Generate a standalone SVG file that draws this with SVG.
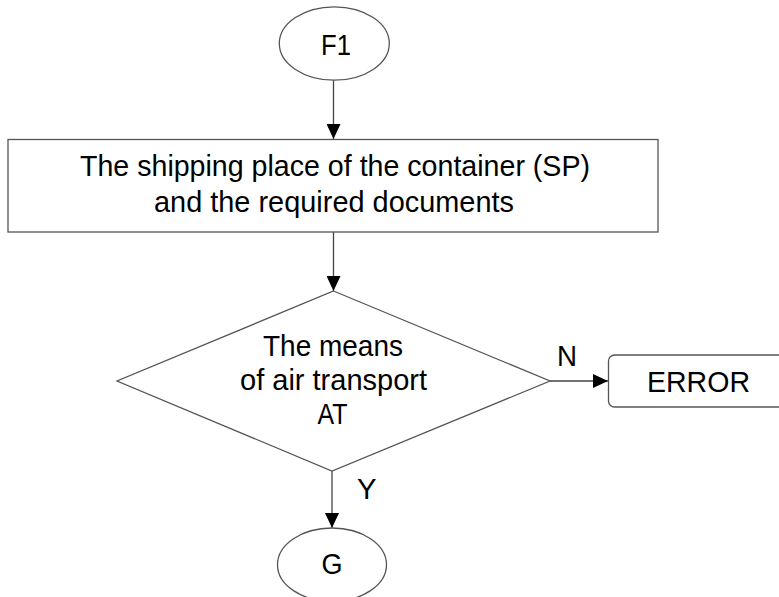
<svg xmlns="http://www.w3.org/2000/svg" width="779" height="597" viewBox="0 0 779 597">
<defs>
<style>
.shape{fill:#fff;stroke:#555;stroke-width:1.3}
.conn{fill:none;stroke:#444;stroke-width:1.3}
.t{font-family:"Liberation Sans",Arial,sans-serif;font-size:29.5px;fill:#000;text-anchor:middle}
.lbl{font-family:"Liberation Sans",Arial,sans-serif;font-size:29.5px;fill:#000}
</style>
<marker id="arr" markerWidth="15" markerHeight="14" refX="15" refY="7" orient="auto" markerUnits="userSpaceOnUse">
<path d="M0,0 L15,7 L0,14 Z" fill="#000"/>
</marker>
</defs>
<rect width="779" height="597" fill="#fff"/>
<g id="connectors">
<line class="conn" x1="333.5" y1="80" x2="333.5" y2="139" marker-end="url(#arr)"/>
<line class="conn" x1="333.5" y1="232" x2="333.5" y2="291" marker-end="url(#arr)"/>
<line class="conn" x1="550" y1="381" x2="608" y2="381" marker-end="url(#arr)"/>
<line class="conn" x1="332" y1="471" x2="332" y2="528" marker-end="url(#arr)"/>
<text class="lbl" x="557" y="366" textLength="20" lengthAdjust="spacingAndGlyphs">N</text>
<text class="lbl" x="357" y="499" textLength="19.5" lengthAdjust="spacingAndGlyphs">Y</text>
</g>
<g id="F1">
<ellipse class="shape" cx="334.3" cy="43.5" rx="55" ry="36.7"/>
<text class="t" x="336" y="55" textLength="30" lengthAdjust="spacingAndGlyphs">F1</text>
</g>
<g id="SP">
<rect class="shape" x="8" y="139.5" width="650" height="92.5"/>
<text class="t" x="335" y="176" textLength="510" lengthAdjust="spacingAndGlyphs">The shipping place of the container (SP)</text>
<text class="t" x="334" y="212" textLength="360" lengthAdjust="spacingAndGlyphs">and the required documents</text>
</g>
<g id="AT">
<polygon class="shape" points="333.5,291 550,381 332,471 117,381"/>
<text class="t" x="333" y="356" textLength="140" lengthAdjust="spacingAndGlyphs">The means</text>
<text class="t" x="333.5" y="390" textLength="187" lengthAdjust="spacingAndGlyphs">of air transport</text>
<text class="t" x="332.5" y="424" textLength="30" lengthAdjust="spacingAndGlyphs">AT</text>
</g>
<g id="ERROR">
<rect class="shape" x="608.5" y="355" width="190" height="52" rx="6"/>
<text class="t" x="698.5" y="392" textLength="103" lengthAdjust="spacingAndGlyphs">ERROR</text>
</g>
<g id="G">
<ellipse class="shape" cx="332" cy="564.7" rx="54.5" ry="36.7"/>
<text class="t" x="332" y="574" textLength="21" lengthAdjust="spacingAndGlyphs">G</text>
</g>
</svg>
